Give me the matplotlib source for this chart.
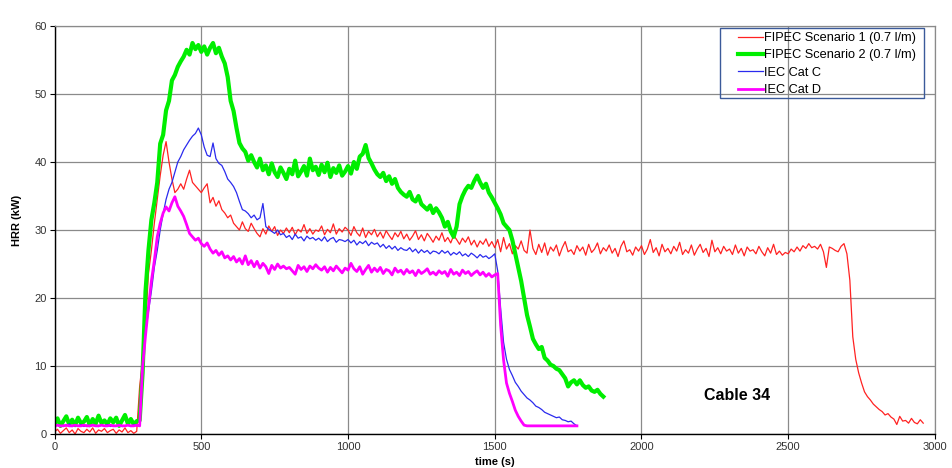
import numpy as np
import matplotlib
matplotlib.use("Agg")
import matplotlib.pyplot as plt
from matplotlib.patches import Rectangle

plt.rcParams["font.family"] = ["Liberation Sans", "DejaVu Sans"]

STEP = 10  # sample spacing of every series, seconds

# FIPEC Scenario 1 (0.7 l/m), 0..2960 s
fipec1_hrr = [
    0.3, 0.7, 0.1, 0.5, 0.9, 0.2, 0.6, 0.0, 0.8, 0.4,
    0.2, 0.7, 0.3, 0.9, 0.1, 0.6, 0.4, 0.8, 0.2, 0.5,
    0.7, 0.1, 0.6, 0.3, 0.9, 0.2, 0.5, 0.1, 0.4, 7.0,
    10.9, 16.0, 23.6, 27.0, 31.0, 34.5, 38.0, 41.0, 43.0, 40.0,
    37.5, 35.5, 36.0, 36.8, 36.0, 37.5, 38.8, 37.0, 36.5, 36.0,
    35.5, 36.2, 36.8, 34.0, 34.8, 33.5, 34.3, 33.0, 32.5, 31.8,
    32.2, 31.0, 30.5, 30.0, 31.2, 30.2, 29.8, 31.0, 30.2, 29.5,
    29.0, 30.2, 29.4, 30.6, 29.8, 30.5, 29.2, 30.0, 29.5, 30.3,
    29.6, 30.4, 29.3, 30.1, 29.7, 30.8, 29.5, 30.2, 29.4, 30.0,
    29.8, 30.6, 29.3, 30.1, 29.6, 30.9, 29.4, 30.2, 29.7, 30.4,
    30.0, 29.2, 30.5, 29.6, 29.1, 30.3, 28.9, 29.8, 29.3, 30.1,
    29.0, 29.7, 28.8, 29.9, 29.2, 28.6, 29.6, 29.0, 29.8, 28.7,
    29.4, 28.5, 29.1, 29.9, 28.6, 29.3, 28.4, 29.5, 28.9, 28.2,
    29.1, 28.5, 29.6, 28.3, 28.9, 28.1, 29.2, 28.6, 27.9, 28.8,
    28.2, 29.0, 27.8, 28.5, 27.5, 28.4, 27.9, 28.7, 27.6, 28.3,
    27.4, 28.6, 26.8, 28.9, 27.2, 28.0, 26.5, 27.7, 27.2, 28.4,
    27.0, 26.6, 30.0, 27.3, 26.4, 27.9, 26.7, 28.1, 26.3, 27.5,
    26.9, 27.8, 26.2, 27.4, 28.3, 26.8, 27.1, 26.4, 27.7, 26.9,
    27.5, 26.3, 27.9, 26.7, 27.2, 28.1, 26.5, 27.4, 26.9, 27.8,
    26.6, 27.3, 26.1, 27.6, 28.4, 26.8, 27.1, 26.3, 27.5, 26.9,
    27.7, 26.4, 27.2, 28.6, 26.7, 27.4, 26.2, 27.9, 26.8, 27.3,
    26.5, 27.6, 26.9, 28.2, 26.4, 27.1, 26.6, 27.8, 26.3, 27.2,
    27.9, 26.7, 27.3, 26.1, 28.5, 26.8, 27.4, 26.5, 27.6, 26.9,
    27.2, 26.4, 27.8, 26.6, 27.3, 26.2, 27.5, 26.9, 27.1, 26.5,
    27.6, 26.8, 26.2, 27.4, 26.6, 27.9, 26.4, 26.9, 26.3, 26.7,
    26.5, 27.2, 26.8, 27.5, 26.9, 27.7, 27.3, 28.0, 27.4, 27.6,
    27.2, 27.9, 26.8, 24.5, 27.5, 27.3, 27.0, 26.8, 27.6, 28.0,
    26.5, 22.6, 14.3, 11.0, 9.0, 7.5, 6.2, 5.5, 5.0, 4.4,
    4.0, 3.6, 3.3, 2.8, 3.0, 2.5, 2.2, 1.4, 2.6, 1.9,
    2.0, 1.6, 2.3, 1.7, 1.5, 2.1, 1.6,
]

# FIPEC Scenario 2 (0.7 l/m), 0..1870 s
fipec2_hrr = [
    1.5, 2.3, 1.2, 1.9, 2.6, 1.4, 2.1, 1.3, 2.4, 1.6,
    1.8, 2.5, 1.3, 2.2, 1.5, 2.7, 1.6, 2.0, 1.4, 2.3,
    1.7, 2.4, 1.2, 2.0, 2.8, 1.5, 2.2, 1.4, 1.9, 2.0,
    9.0, 21.0, 27.0, 31.5, 34.0, 37.0, 42.7, 44.0, 47.6, 49.0,
    52.0, 52.8, 54.0, 54.8, 55.5, 56.5, 55.8, 57.5, 56.6, 57.2,
    56.2, 57.0, 55.8, 56.8, 57.5, 56.0, 56.8, 55.5, 54.5, 52.5,
    49.0, 47.5, 45.0, 42.8, 42.0, 41.5, 40.2, 41.0, 40.0, 39.2,
    40.5, 38.8, 39.5, 38.2, 39.8, 38.5, 37.8, 39.2, 38.4, 37.5,
    39.0, 38.2, 40.2, 37.9, 38.6, 39.4, 38.0, 40.5, 38.8, 39.3,
    38.1, 39.6, 38.5, 39.9, 37.8, 39.1, 38.4, 39.5, 38.0, 38.6,
    39.4, 38.3, 40.0, 39.0, 40.8, 41.2, 42.5, 40.6, 39.8, 38.9,
    38.2, 37.8, 38.4, 37.2, 37.9, 36.8, 37.5, 36.2, 35.6, 35.2,
    34.9, 35.6, 34.5, 34.2, 35.0, 33.8, 33.4, 33.0, 33.6, 32.5,
    33.2, 32.6, 31.8, 30.5, 31.2, 29.8, 29.0, 30.5, 33.8, 35.0,
    35.9, 36.5, 36.2, 37.2, 38.0, 37.0, 36.2, 36.8, 35.5, 34.8,
    34.0, 33.2, 32.3, 31.0, 30.5, 30.0, 28.5, 26.5, 24.5, 22.5,
    20.0, 17.5, 15.8, 14.0, 13.2, 12.5, 12.8, 11.2, 10.8, 10.2,
    10.0, 9.6, 9.4, 8.8, 8.2, 7.0, 7.6, 7.9, 7.3, 7.9,
    7.2, 6.8, 7.0, 6.4, 6.2, 6.5, 5.9, 5.5,
]

# IEC Cat C, 0..1780 s
iec_c_hrr = [
    1.2, 1.4, 1.1, 1.3, 1.2, 1.5, 1.1, 1.3, 1.2, 1.4,
    1.1, 1.3, 1.2, 1.4, 1.2, 1.1, 1.3, 1.2, 1.4, 1.1,
    1.3, 1.2, 1.4, 1.1, 1.2, 1.3, 1.1, 1.4, 1.2, 1.3,
    10.0, 15.0, 18.0, 21.0, 24.5, 27.0, 30.0, 32.4, 34.5, 36.0,
    37.0, 38.5, 40.0, 40.8, 41.8, 42.5, 43.2, 43.8, 44.2, 45.0,
    44.0, 42.2, 41.0, 40.8, 42.8, 40.5, 39.8, 39.5, 38.6, 37.5,
    37.0, 36.4, 35.5, 34.2, 33.0, 32.8, 32.4, 31.8, 32.2, 31.5,
    31.8, 33.9, 30.5, 30.1, 29.8, 29.5, 30.0, 29.3, 29.5, 28.9,
    29.2, 28.6, 29.4, 28.8, 29.0, 28.4, 29.1, 28.7, 28.9, 28.5,
    28.8, 28.4, 29.0, 28.3, 28.7, 28.9, 28.2, 28.6, 28.5, 28.3,
    28.6, 28.1, 28.5, 27.8, 28.3, 28.0, 28.4, 27.7, 28.2, 27.9,
    28.1, 27.5, 27.9, 27.3, 27.7, 27.2, 27.6, 27.0, 27.4, 27.1,
    27.0, 27.4, 26.8, 27.2, 26.6, 27.1, 26.7, 27.0, 26.5, 26.9,
    26.8, 26.5, 27.0, 26.6, 26.9, 26.3, 26.7, 26.4, 26.8, 26.2,
    26.5, 26.1, 26.6, 26.3, 25.9, 26.4, 26.0, 26.2, 25.8, 26.1,
    26.5, 24.0, 18.5, 13.5, 11.0, 9.5, 8.6, 7.6, 7.0, 6.3,
    5.8, 5.3, 5.0, 4.6, 4.1, 3.9, 3.6, 3.2, 3.0, 2.8,
    2.6, 2.4, 2.5, 2.1, 2.0, 1.8, 1.9, 1.5, 1.2,
]

# IEC Cat D, 0..1780 s
iec_d_hrr = [
    1.2, 1.3, 1.2, 1.2, 1.3, 1.2, 1.2, 1.3, 1.2, 1.2,
    1.3, 1.2, 1.2, 1.3, 1.2, 1.2, 1.3, 1.2, 1.2, 1.3,
    1.2, 1.2, 1.3, 1.2, 1.2, 1.3, 1.2, 1.2, 1.3, 1.2,
    9.9, 14.5, 18.7, 22.5, 25.5, 29.0, 31.0, 32.5, 33.4, 32.8,
    34.0, 34.9, 33.5, 32.8, 32.0, 30.8, 29.5, 29.0, 28.5, 28.8,
    28.0, 27.6, 28.1, 27.2, 26.6, 27.0, 26.3, 26.8, 25.9, 26.2,
    25.6, 26.1, 25.3, 25.8, 25.0, 26.2, 24.9, 25.5, 24.6, 25.4,
    24.4, 25.1, 24.6, 23.6, 24.8, 24.2, 25.0, 24.4, 24.7, 24.3,
    24.5, 24.0, 23.5, 24.8, 24.2, 24.6, 23.9, 24.7, 24.3, 24.9,
    24.4, 24.1, 24.6, 23.8, 24.5, 24.0, 24.7, 24.2, 23.7, 24.4,
    24.1, 25.1, 24.3, 23.9, 24.6, 23.5, 24.2, 24.8, 23.8, 24.4,
    23.9, 24.5, 23.6, 24.2, 24.0, 23.4, 24.4, 23.8, 24.1, 23.5,
    24.2, 23.7, 24.0, 23.3, 24.1, 23.6, 23.9, 24.3, 23.5, 23.8,
    23.4, 24.0, 23.6, 23.9, 23.2, 24.2, 23.5, 23.8, 23.3, 24.1,
    23.6, 23.9, 23.3, 23.7, 24.0, 23.4, 23.8, 23.2, 23.6, 23.1,
    23.4, 23.6, 16.0, 10.9, 7.5, 6.0, 4.8, 3.5, 2.6, 1.9,
    1.3, 1.2, 1.2, 1.2, 1.2, 1.2, 1.2, 1.2, 1.2, 1.2,
    1.2, 1.2, 1.2, 1.2, 1.2, 1.2, 1.2, 1.2, 1.2,
]

SERIES = [
    ("FIPEC Scenario 1 (0.7 l/m)", fipec1_hrr, "#ff2222", 0.9),
    ("FIPEC Scenario 2 (0.7 l/m)", fipec2_hrr, "#00ee00", 3.0),
    ("IEC Cat C",                  iec_c_hrr,  "#2a2aee", 0.9),
    ("IEC Cat D",                  iec_d_hrr,  "#ff00ff", 2.0),
]

W, H = 952, 468
fig = plt.figure(figsize=(W / 100, H / 100), dpi=100, facecolor="white")
ax = fig.add_axes([0.0573, 0.0726, 0.9248, 0.8718])

for label, vals, col, lw in SERIES:
    t = np.arange(len(vals)) * STEP
    ax.plot(t, vals, color=col, lw=lw, label=label)

ax.set_xlim(0, 3000)
ax.set_ylim(0, 60)
ax.set_xticks(np.arange(0, 3001, 500))
ax.set_yticks(np.arange(0, 61, 10))
ax.grid(True, color="#8a8a8a", lw=0.9)
ax.set_axisbelow(True)

for side in ("top", "right"):
    ax.spines[side].set_color("#8a8a8a")
    ax.spines[side].set_linewidth(0.9)
for side in ("left", "bottom"):
    ax.spines[side].set_color("black")
    ax.spines[side].set_linewidth(1.0)

ax.tick_params(labelsize=8, labelcolor="#333333", length=3.5, width=0.8, pad=2)

ax.set_xlabel("time (s)", fontsize=8, fontweight="bold", labelpad=4)
ax.set_ylabel("HRR (kW)", fontsize=8, fontweight="bold")
ax.yaxis.set_label_coords(-0.037, 0.524)

ax.text(2326, 5.7, "Cable 34", fontsize=11.5, fontweight="bold",
        ha="center", va="center")

# legend: frameless entries + a separate box, like the original export
ax.legend(loc="upper left", bbox_to_anchor=(738 / W, 1 - 32 / H),
          bbox_transform=fig.transFigure, fontsize=9.2, frameon=False,
          handlelength=1.95, handletextpad=0.12, borderpad=0,
          labelspacing=0.42, borderaxespad=0)
ax.add_patch(Rectangle((720 / W, 1 - 98 / H), 204 / W, 70 / H,
                       transform=fig.transFigure, fill=False,
                       edgecolor="#3b5a9a", lw=1.0, clip_on=False, zorder=5))

fig.savefig("out.png", dpi=100, facecolor=fig.get_facecolor())
